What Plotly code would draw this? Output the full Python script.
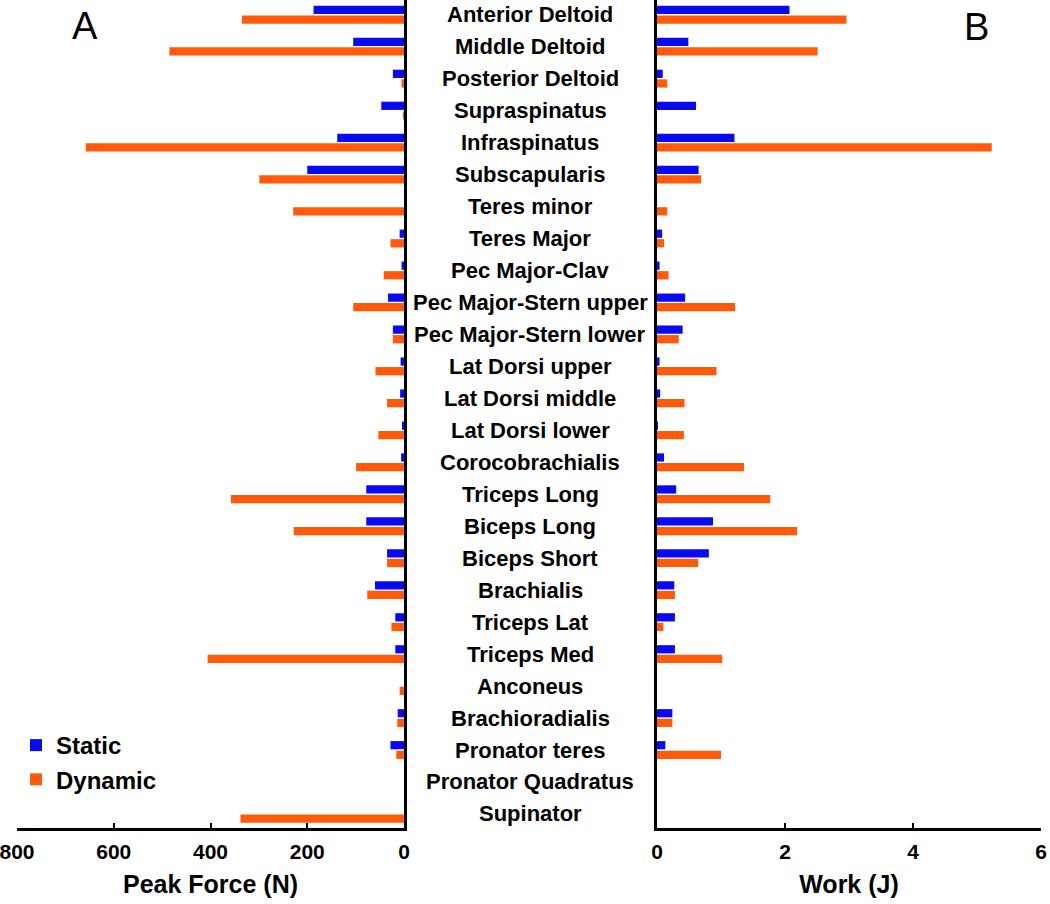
import plotly.graph_objects as go

muscles = ["Anterior Deltoid", "Middle Deltoid", "Posterior Deltoid", "Supraspinatus",
           "Infraspinatus", "Subscapularis", "Teres minor", "Teres Major", "Pec Major-Clav",
           "Pec Major-Stern upper", "Pec Major-Stern lower", "Lat Dorsi upper",
           "Lat Dorsi middle", "Lat Dorsi lower", "Corocobrachialis", "Triceps Long",
           "Biceps Long", "Biceps Short", "Brachialis", "Triceps Lat", "Triceps Med",
           "Anconeus", "Brachioradialis", "Pronator teres", "Pronator Quadratus", "Supinator"]

force_static = [187, 105, 23, 47, 138, 200, 0, 9, 5, 33, 23, 7, 8, 3, 6, 78, 78, 35,
                60, 18, 18, 0, 13, 28, 0, 0]
force_dynamic = [335, 485, 5, 2, 658, 299, 229, 28, 42, 105, 23, 59, 35, 53, 99, 358, 228, 35,
                 76, 26, 406, 9, 14, 16, 0, 338]

work_static = [2.07, 0.49, 0.09, 0.61, 1.21, 0.65, 0.0, 0.08, 0.04, 0.44, 0.40, 0.04, 0.05, 0.01,
               0.11, 0.30, 0.875, 0.81, 0.27, 0.28, 0.28, 0.0, 0.24, 0.13, 0.0, 0.0]
work_dynamic = [2.96, 2.51, 0.16, 0.0, 5.23, 0.69, 0.16, 0.11, 0.18, 1.22, 0.34, 0.93, 0.43, 0.42,
                1.36, 1.77, 2.19, 0.645, 0.28, 0.10, 1.02, 0.0, 0.24, 1.0, 0.0, 0.0]

force_ticks = [0, 200, 400, 600, 800]
work_ticks = [0, 2, 4, 6]

BLUE = "#0a0af0"
ORANGE = "#ff5a0a"
FONT = "Liberation Sans, Arial, sans-serif"

fig = go.Figure()
fig.add_trace(go.Bar(y=muscles, x=force_static, orientation="h", name="Static",
                     marker=dict(color=BLUE, line=dict(width=0)), xaxis="x", yaxis="y"))
fig.add_trace(go.Bar(y=muscles, x=force_dynamic, orientation="h", name="Dynamic",
                     marker=dict(color=ORANGE, line=dict(width=0)), xaxis="x", yaxis="y"))
fig.add_trace(go.Bar(y=muscles, x=work_static, orientation="h", name="Static", showlegend=False,
                     marker=dict(color=BLUE, line=dict(width=0)), xaxis="x2", yaxis="y2"))
fig.add_trace(go.Bar(y=muscles, x=work_dynamic, orientation="h", name="Dynamic", showlegend=False,
                     marker=dict(color=ORANGE, line=dict(width=0)), xaxis="x2", yaxis="y2"))

yrange = [25.44, -0.46]
axis_common = dict(showline=True, linecolor="black", linewidth=2.5, showgrid=False,
                   zeroline=False, ticks="inside", ticklen=5, tickwidth=2, tickcolor="black",
                   tickfont=dict(family=FONT, size=21, color="black", weight="bold"),
                   ticklabelstandoff=3, automargin=False, ticklabeloverflow="allow")

fig.update_layout(
    width=1050, height=904,
    margin=dict(l=0, r=0, t=0, b=76, autoexpand=False),
    paper_bgcolor="white", plot_bgcolor="white",
    barmode="group", bargap=0.4, bargroupgap=0.14,
    font=dict(family=FONT, color="black"),
    xaxis=dict(domain=[17 / 1050, 404 / 1050], range=[800, 0], tickvals=force_ticks,
               title=dict(text="Peak Force (N)", standoff=14,
                          font=dict(family=FONT, size=25, color="black", weight="bold")),
               anchor="y", **axis_common),
    yaxis=dict(range=yrange, side="right", showline=True, linecolor="black", linewidth=2.5,
               showticklabels=False, ticks="", showgrid=False, zeroline=False, anchor="x",
               automargin=False),
    xaxis2=dict(domain=[657 / 1050, 1041 / 1050], range=[0, 6], tickvals=work_ticks,
                title=dict(text="Work (J)", standoff=14,
                           font=dict(family=FONT, size=25, color="black", weight="bold")),
                anchor="y2", **axis_common),
    yaxis2=dict(range=yrange, side="left", showline=True, linecolor="black", linewidth=2.5,
                showticklabels=False, ticks="", showgrid=False, zeroline=False, anchor="x2",
                automargin=False),
    legend=dict(x=16 / 1050, y=(828 - 723) / 828, xanchor="left", yanchor="top",
                bgcolor="rgba(0,0,0,0)",
                font=dict(family=FONT, size=24, color="black", weight="bold")),
    showlegend=True,
)

for m in muscles:
    fig.add_annotation(x=530 / 1050, xref="paper", y=m, yref="y", text=m, showarrow=False,
                       xanchor="center", yanchor="middle",
                       font=dict(family=FONT, size=22, color="black", weight="bold"))

fig.add_annotation(x=85 / 1050, y=(828 - 26) / 828, xref="paper", yref="paper", text="A",
                   showarrow=False, xanchor="center", yanchor="middle",
                   font=dict(family=FONT, size=38, color="black"))
fig.add_annotation(x=976 / 1050, y=(828 - 27) / 828, xref="paper", yref="paper", text="B",
                   showarrow=False, xanchor="center", yanchor="middle",
                   font=dict(family=FONT, size=38, color="black"))

fig.write_html("out.html", config={"displayModeBar": False},
               post_script="document.body.style.margin='0';document.body.style.overflow='hidden';")
